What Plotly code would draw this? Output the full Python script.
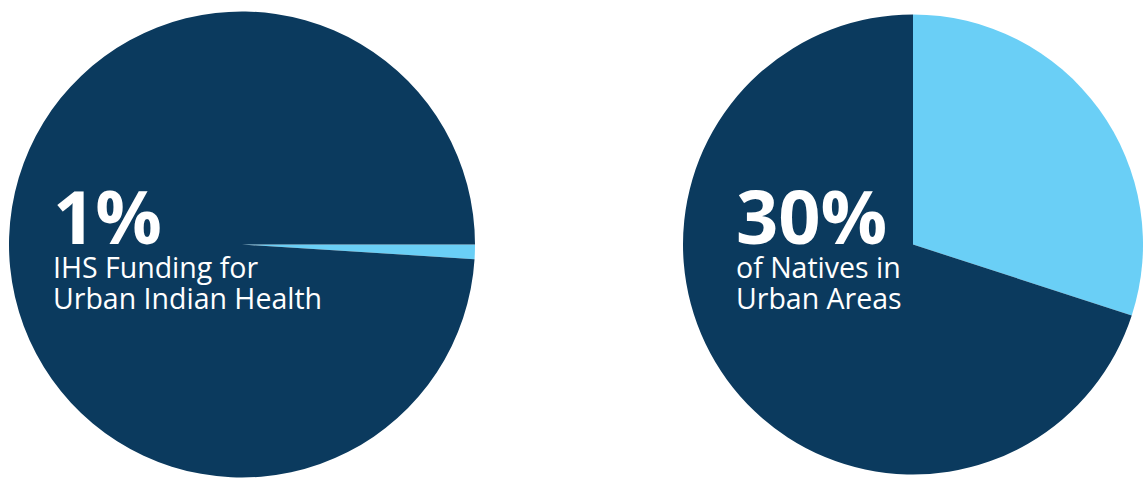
import plotly.graph_objects as go

W, H = 1143, 479

# Data
left_labels = ["Urban Indian Health", "Other IHS Funding"]
left_values = [1, 99]
right_labels = ["Natives in Urban Areas", "Other Natives"]
right_values = [30, 70]

big_left = "1%"
small_left = ["IHS Funding for", "Urban Indian Health"]
big_right = "30%"
small_right = ["of Natives in", "Urban Areas"]

DARK = "#0B3A5E"
LIGHT = "#6ACFF6"

fig = go.Figure()

fig.add_trace(go.Pie(
    labels=left_labels, values=left_values, sort=False,
    direction="clockwise", rotation=90,
    marker=dict(colors=[LIGHT, DARK], line=dict(width=0)),
    textinfo="none", hoverinfo="label+percent", showlegend=False,
    domain=dict(x=[9 / W, 475 / W], y=[1 / H, 468 / H]),
))

fig.add_trace(go.Pie(
    labels=right_labels, values=right_values, sort=False,
    direction="clockwise", rotation=0,
    marker=dict(colors=[LIGHT, DARK], line=dict(width=0)),
    textinfo="none", hoverinfo="label+percent", showlegend=False,
    domain=dict(x=[683 / W, 1.0], y=[1 / H, 468 / H]),
))

FONT = "Open Sans"


def add_block(x_px, big, lines):
    fig.add_annotation(
        x=x_px / W, y=1 - 216 / H, xref="paper", yref="paper",
        xanchor="left", yanchor="middle", showarrow=False,
        text="<b>%s</b>" % big,
        font=dict(family=FONT, size=74, color="white"),
    )
    for i, line in enumerate(lines):
        fig.add_annotation(
            x=x_px / W, y=1 - (267 + 31 * i) / H, xref="paper", yref="paper",
            xanchor="left", yanchor="middle", showarrow=False,
            text=line,
            font=dict(family=FONT, size=28.5, color="white"),
        )


add_block(51, big_left, small_left)
add_block(734, big_right, small_right)

fig.update_layout(
    width=W, height=H,
    margin=dict(l=0, r=0, t=0, b=0),
    paper_bgcolor="white", plot_bgcolor="white",
)

fig.write_html("out.html")
